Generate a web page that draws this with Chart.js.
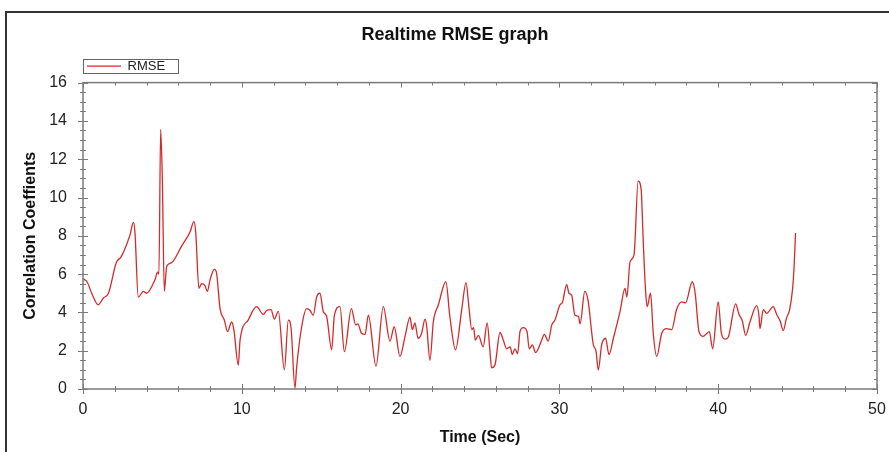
<!DOCTYPE html>
<html>
<head>
<meta charset="utf-8">
<script src="https://cdn.jsdelivr.net/npm/chart.js@4.4.1/dist/chart.umd.min.js"></script>
<style>
  html, body { margin: 0; padding: 0; background: #fff; overflow: hidden; }
  #frame { position: absolute; left: 5px; top: 11px; width: 900px; height: 460px; border: 2px solid #333; }
  #wrap { position: absolute; left: 0; top: 0; width: 889px; height: 452px; }
</style>
</head>
<body>
<div id="frame"></div>
<div id="wrap"><canvas id="chart"></canvas></div>
<script>
// readings taken off the realtime RMSE plot
var timeSec = [
  0.0, 0.25, 0.6, 0.96, 1.28, 1.6, 2.1, 2.4, 2.96, 3.17, 3.27, 3.48, 3.8, 4.0, 4.53, 4.7, 4.78, 4.89, 5.0, 5.12,
  5.27, 5.58, 6.2, 6.74, 6.99, 7.1, 7.3, 7.47, 7.68, 7.83, 8.0, 8.27, 8.4, 8.63, 8.9, 9.1, 9.36, 9.5, 9.78, 9.89,
  10.4, 10.93, 11.35, 11.56, 11.84, 12.05, 12.3, 12.68, 12.93, 13.1, 13.35, 13.45, 13.77, 14.08, 14.3, 14.5, 14.71, 14.92, 15.13, 15.34,
  15.66, 15.83, 16.18, 16.46, 16.9, 17.17, 17.3, 17.55, 17.76, 17.97, 18.45, 18.91, 19.33, 19.6, 19.96, 20.28, 20.59, 20.74, 20.9, 21.1,
  21.32, 21.54, 21.64, 21.85, 22.06, 22.38, 22.85, 23.1, 23.46, 23.85, 24.12, 24.3, 24.48, 24.6, 24.7, 24.9, 25.2, 25.45, 25.62, 25.73,
  25.94, 26.26, 26.47, 26.68, 26.9, 27.03, 27.2, 27.37, 27.52, 27.73, 27.96, 28.1, 28.3, 28.5, 28.88, 29.05, 29.3, 29.52, 29.72, 30.04,
  30.18, 30.46, 30.6, 30.77, 30.98, 31.2, 31.3, 31.6, 31.8, 32.14, 32.3, 32.45, 32.66, 32.91, 33.12, 33.4, 33.82, 34.13, 34.25, 34.45,
  34.7, 34.96, 35.15, 35.28, 35.43, 35.53, 35.74, 35.91, 36.13, 36.44, 36.75, 37.07, 37.38, 37.7, 37.94, 38.37, 38.55, 38.79, 39.06, 39.44,
  39.65, 40.0, 40.2, 40.43, 40.63, 41.1, 41.31, 41.52, 41.73, 42.0, 42.42, 42.57, 42.63, 42.84, 43.05, 43.47, 43.68, 43.9, 44.1, 44.3,
  44.5, 44.68, 44.78, 44.87
];
var rmse = [
  5.75, 5.6, 4.9, 4.4, 4.75, 5.0, 6.6, 6.9, 8.05, 8.7, 8.2, 4.8, 5.1, 5.0, 5.7, 6.1, 6.0, 13.55, 10.8, 5.1,
  6.4, 6.6, 7.45, 8.2, 8.75, 8.15, 5.25, 5.5, 5.4, 5.1, 5.7, 6.25, 6.1, 4.2, 3.6, 3.0, 3.5, 3.1, 1.25, 2.55,
  3.6, 4.3, 3.9, 4.1, 4.15, 3.65, 4.05, 1.0, 3.6, 3.2, 0.05, 1.1, 3.25, 4.2, 4.1, 3.85, 4.8, 5.0, 4.05, 3.8,
  2.05, 3.85, 4.3, 1.95, 4.2, 3.35, 3.4, 2.9, 2.85, 3.85, 1.2, 4.3, 2.5, 3.25, 1.7, 2.75, 3.75, 3.1, 3.45, 2.65,
  2.9, 3.65, 3.3, 1.5, 3.5, 4.4, 5.6, 3.8, 2.05, 4.15, 5.55, 4.3, 3.1, 3.2, 2.55, 2.8, 2.2, 3.45, 2.05, 1.1,
  1.25, 2.95, 2.55, 2.1, 2.2, 1.8, 2.1, 1.85, 3.0, 3.2, 3.0, 2.1, 2.3, 1.9, 2.55, 2.85, 2.5, 3.35, 3.6, 4.4,
  4.5, 5.45, 5.0, 4.9, 3.85, 3.8, 3.4, 5.1, 4.65, 2.3, 2.0, 1.0, 2.3, 2.65, 1.8, 2.65, 4.05, 5.25, 4.8, 6.65,
  7.0, 10.85, 10.4, 7.7, 5.1, 4.3, 5.0, 2.9, 1.7, 2.9, 3.15, 3.1, 4.15, 4.55, 4.5, 5.6, 5.0, 3.0, 2.75, 3.0,
  2.1, 4.55, 2.9, 2.6, 2.7, 4.45, 3.9, 3.55, 2.8, 3.5, 4.35, 3.8, 3.15, 4.15, 3.95, 4.3, 3.9, 3.55, 3.05, 3.7,
  4.15, 5.2, 6.4, 8.15
];
var xTicks = [0, 10, 20, 30, 40, 50];
var yTicks = [0, 2, 4, 6, 8, 10, 12, 14, 16];

var points = timeSec.map(function (t, i) { return { x: t, y: rmse[i] }; });

Chart.defaults.font.family = '"Liberation Sans", Arial, sans-serif';
Chart.defaults.color = '#222';

var axisColor = '#7a7a7a';

// box round the plot with ticks crossing the axes
var boxTicks = {
  id: 'boxTicks',
  afterDraw: function (chart) {
    var c = chart.ctx, a = chart.chartArea;
    var xs = chart.scales.x, ys = chart.scales.y;
    c.save();
    c.strokeStyle = axisColor;
    c.lineWidth = 1.5;
    c.strokeRect(a.left, a.top, a.right - a.left, a.bottom - a.top);
    c.lineWidth = 1;
    c.beginPath();
    for (var v = xs.min; v <= xs.max + 0.001; v += 2) {
      var px = Math.round(xs.getPixelForValue(v)) + 0.5;
      var big = v % 10 === 0 ? 5 : 3;
      c.moveTo(px, a.bottom - big); c.lineTo(px, a.bottom + big);
      c.moveTo(px, a.top); c.lineTo(px, a.top + big);
    }
    for (var w = ys.min; w <= ys.max + 0.001; w += 0.5) {
      var py = Math.round(ys.getPixelForValue(w)) + 0.5;
      var len = w % 2 === 0 ? 5 : 3;
      c.moveTo(a.left - len, py); c.lineTo(a.left + len, py);
      c.moveTo(a.right - len, py); c.lineTo(a.right, py);
    }
    c.stroke();
    // frame round the legend item
    var lg = chart.legend;
    if (lg && lg.legendHitBoxes && lg.legendHitBoxes.length) {
      var hb = lg.legendHitBoxes[0];
      c.strokeStyle = '#666';
      c.lineWidth = 1;
      c.strokeRect(Math.round(hb.left - 4) + 0.5, Math.round(hb.top - 1) + 0.5, Math.round(hb.width + 17), Math.round(hb.height + 1));
    }
    c.restore();
  }
};

new Chart(document.getElementById('chart'), {
  type: 'line',
  data: {
    datasets: [{
      label: 'RMSE',
      data: points,
      borderColor: '#d42a2a',
      backgroundColor: '#d42a2a',
      borderWidth: 1.3,
      pointRadius: 0,
      cubicInterpolationMode: 'monotone',
      fill: false
    }]
  },
  options: {
    responsive: true,
    maintainAspectRatio: false,
    animation: false,
    layout: { padding: { left: 33, right: 12, top: 12, bottom: 5 } },
    plugins: {
      title: {
        display: true,
        text: 'Realtime RMSE graph',
        font: { size: 18, weight: 'bold' },
        color: '#111',
        padding: { top: 12, bottom: 10 }
      },
      legend: {
        display: true,
        align: 'start',
        fullSize: false,
        labels: {
          usePointStyle: true,
          pointStyle: 'line',
          pointStyleWidth: 34,
          padding: 4,
          font: { size: 13 },
          color: '#222'
        }
      },
      tooltip: { enabled: false }
    },
    scales: {
      x: {
        type: 'linear',
        min: 0,
        max: 50,
        afterBuildTicks: function (s) { s.ticks = xTicks.map(function (v) { return { value: v }; }); },
        afterFit: function (s) { s.height = 58; s.paddingLeft = 0; s.paddingRight = 0; },
        grid: { display: false, drawTicks: false },
        border: { display: false },
        ticks: { padding: 11, font: { size: 16 }, color: '#222' },
        title: {
          display: true,
          text: 'Time (Sec)',
          font: { size: 16, weight: 'bold' },
          color: '#111',
          padding: { top: 8, bottom: 0 }
        }
      },
      y: {
        min: 0,
        max: 16,
        afterBuildTicks: function (s) { s.ticks = yTicks.map(function (v) { return { value: v }; }); },
        afterFit: function (s) { s.width = 50; },
        grid: { display: false, drawTicks: false },
        border: { display: false },
        ticks: { padding: 16, font: { size: 16 }, color: '#222' },
        title: {
          display: true,
          text: 'Correlation Coeffients',
          font: { size: 16, weight: 'bold' },
          color: '#111',
          padding: { top: -11.6, bottom: 0 }
        }
      }
    }
  },
  plugins: [boxTicks]
});
</script>
</body>
</html>
